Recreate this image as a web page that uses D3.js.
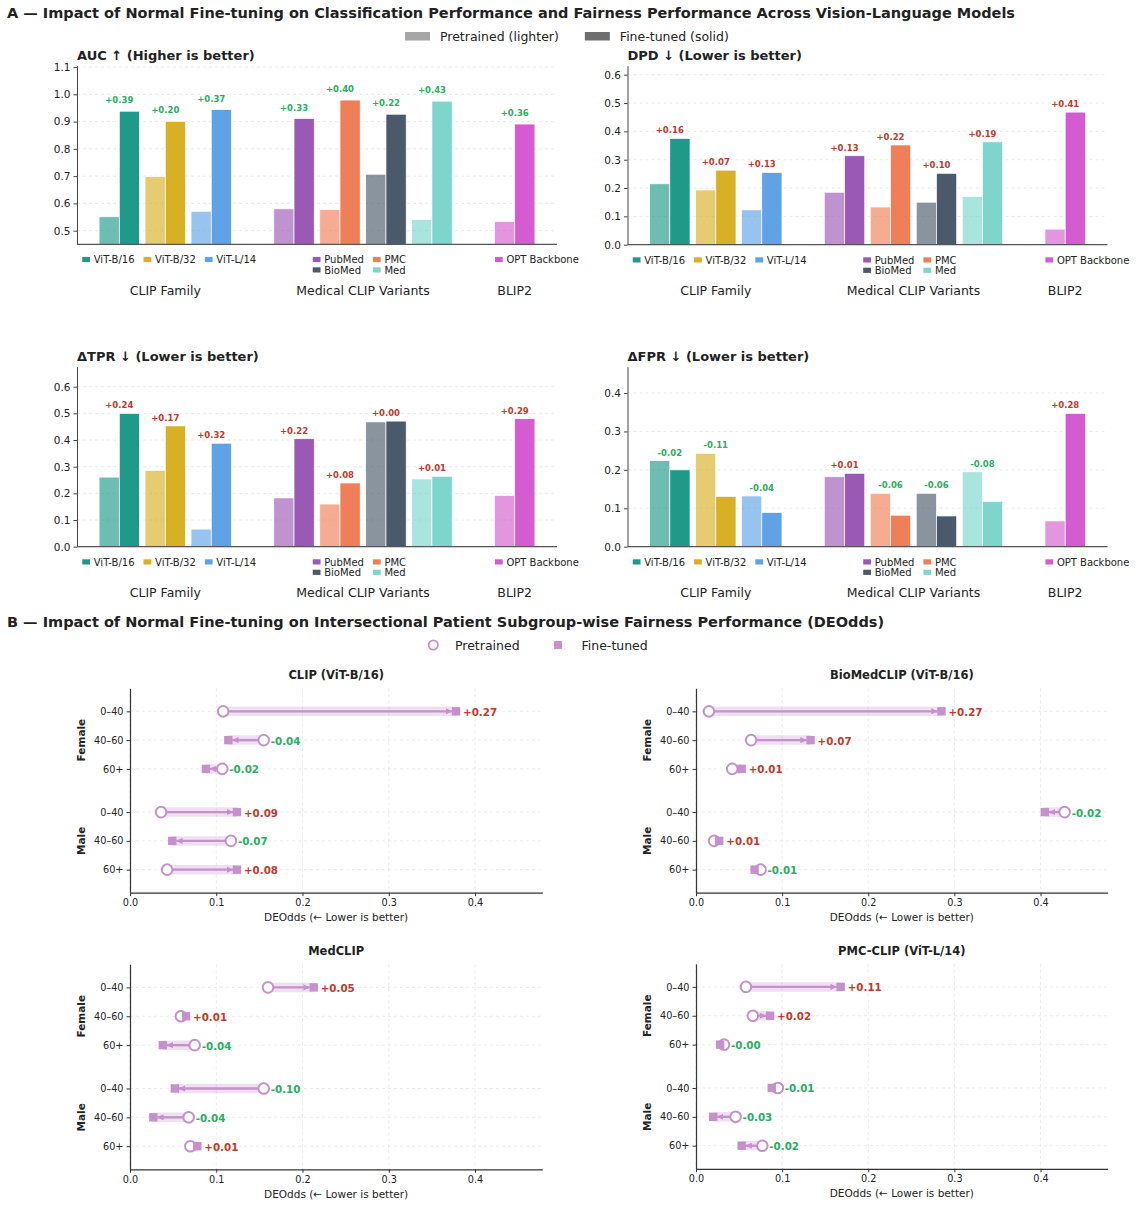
<!DOCTYPE html>
<html>
<head>
<meta charset="utf-8">
<script src="https://cdn.jsdelivr.net/npm/d3@7"></script>
<style>
    body { margin: 0; background: #fff; }
    svg text { font-family: "DejaVu Sans", sans-serif; fill: #222; }
</style>
</head>
<body>
<div id="wrapper"></div>
<script>
// 1. Access data

// Panel A: models, grouped into families
const models = ["ViT-B/16", "ViT-B/32", "ViT-L/14", "PubMed", "PMC", "BioMed", "Med", "OPT Backbone"]
const modelGroup = [0, 0, 0, 1, 1, 1, 1, 2]
const modelPos = [0, 1, 2, 3.8, 4.8, 5.8, 6.8, 8.6]
const modelColors = ["#1f9a8a", "#d7b024", "#5fa3e6", "#9b59b6", "#ef7f58", "#4b5a6a", "#7dd5cc", "#d55cd0"]
const groups = ["CLIP Family", "Medical CLIP Variants", "BLIP2"]
const groupCenters = [1, 5.3, 8.6]

const aucPre = [0.551, 0.698, 0.571, 0.580, 0.577, 0.707, 0.541, 0.533]
const aucFt  = [0.938, 0.901, 0.944, 0.911, 0.979, 0.927, 0.975, 0.891]
const dpdPre = [0.215, 0.193, 0.123, 0.185, 0.133, 0.150, 0.170, 0.055]
const dpdFt  = [0.375, 0.263, 0.255, 0.314, 0.352, 0.252, 0.363, 0.468]
const tprPre = [0.261, 0.286, 0.066, 0.183, 0.160, 0.468, 0.254, 0.192]
const tprFt  = [0.500, 0.453, 0.388, 0.405, 0.239, 0.471, 0.264, 0.480]
const fprPre = [0.224, 0.243, 0.132, 0.182, 0.139, 0.139, 0.195, 0.067]
const fprFt  = [0.200, 0.131, 0.089, 0.191, 0.082, 0.080, 0.118, 0.347]

const aucTicks = [0.5, 0.6, 0.7, 0.8, 0.9, 1.0, 1.1]
const dpdTicks = [0, 0.1, 0.2, 0.3, 0.4, 0.5, 0.6]
const tprTicks = [0, 0.1, 0.2, 0.3, 0.4, 0.5, 0.6]
const fprTicks = [0, 0.1, 0.2, 0.3, 0.4]

// Panel B: subgroup DEOdds
const sexes = ["Female", "Male"]
const subgroups = ["0–40", "40–60", "60+", "0–40", "40–60", "60+"]
const subgroupSex = [0, 0, 0, 1, 1, 1]
const rowPos = [0, 1, 2, 3.5, 4.5, 5.5]
const deoTicks = [0, 0.1, 0.2, 0.3, 0.4]

const clipPre    = [0.108, 0.155, 0.107, 0.036, 0.117, 0.043]
const clipFt     = [0.378, 0.114, 0.088, 0.124, 0.049, 0.124]
const biomedPre  = [0.015, 0.064, 0.042, 0.428, 0.021, 0.075]
const biomedFt   = [0.285, 0.133, 0.053, 0.405, 0.027, 0.068]
const medclipPre = [0.160, 0.059, 0.075, 0.155, 0.068, 0.070]
const medclipFt  = [0.213, 0.065, 0.038, 0.052, 0.027, 0.078]
const pmcPre     = [0.058, 0.066, 0.0325, 0.095, 0.046, 0.077]
const pmcFt      = [0.168, 0.086, 0.028, 0.088, 0.020, 0.053]

const GOOD = "#27ae60"
const BAD = "#c0392b"
const DUMB = "#c690cc"

const fmtDelta = d => (d >= 0 ? "+" : "-") + Math.abs(d).toFixed(2)

// 2. Create chart dimensions
const width = 1142
const height = 1212

const barPanels = [
    { title: "AUC ↑ (Higher is better)", pre: aucPre, ft: aucFt, ticks: aucTicks,
      higherBetter: true, box: [77, 65.7, 557, 244.3], yMin: 0.45, yMax: 1.105, lift: 11 },
    { title: "DPD ↓ (Lower is better)", pre: dpdPre, ft: dpdFt, ticks: dpdTicks,
      higherBetter: false, box: [627.5, 65.7, 1107.5, 244.7], yMin: 0, lift: 8 },
    { title: "ΔTPR ↓ (Lower is better)", pre: tprPre, ft: tprFt, ticks: tprTicks,
      higherBetter: false, box: [77, 366.7, 557, 546.7], yMin: 0, lift: 8 },
    { title: "ΔFPR ↓ (Lower is better)", pre: fprPre, ft: fprFt, ticks: fprTicks,
      higherBetter: false, box: [627.5, 366.7, 1107.5, 546.7], yMin: 0, lift: 8 },
]
// legend left edge for each family, in bar-position units
const legendStart = [-0.806, 4.207, 8.17]

const dumbPanels = [
    { title: "CLIP (ViT-B/16)", pre: clipPre, ft: clipFt, box: [130, 688.3, 542.3, 892.7] },
    { title: "BioMedCLIP (ViT-B/16)", pre: biomedPre, ft: biomedFt, box: [696, 688.3, 1107.7, 892.7] },
    { title: "MedCLIP", pre: medclipPre, ft: medclipFt, box: [130, 964.3, 542.3, 1169.3] },
    { title: "PMC-CLIP (ViT-L/14)", pre: pmcPre, ft: pmcFt, box: [696, 963.8, 1107.7, 1168.8] },
]

// 3. Draw canvas
const wrapper = d3.select("#wrapper")
    .append("svg")
    .attr("width", width)
    .attr("height", height)

wrapper.append("text")
    .attr("x", 7).attr("y", 13)
    .attr("dominant-baseline", "central")
    .attr("font-size", 14.5).attr("font-weight", "bold")
    .text("A — Impact of Normal Fine-tuning on Classification Performance and Fairness Performance Across Vision-Language Models")

wrapper.append("text")
    .attr("x", 7).attr("y", 622)
    .attr("dominant-baseline", "central")
    .attr("font-size", 14.5).attr("font-weight", "bold")
    .text("B — Impact of Normal Fine-tuning on Intersectional Patient Subgroup-wise Fairness Performance (DEOdds)")

// top legend for panel A
const legA = wrapper.append("g")
let lx = 405
;[["Pretrained (lighter)", "#a6a6a6"], ["Fine-tuned (solid)", "#6e6e6e"]].forEach(([label, c]) => {
    legA.append("rect").attr("x", lx).attr("y", 32).attr("width", 25).attr("height", 8.5).attr("fill", c)
    const t = legA.append("text").attr("x", lx + 35).attr("y", 36.3)
        .attr("dominant-baseline", "central").attr("font-size", 12.5).text(label)
    lx += 35 + t.node().getComputedTextLength() + 26
})

// top legend for panel B
const legB = wrapper.append("g")
legB.append("circle").attr("cx", 433.3).attr("cy", 645).attr("r", 4.6)
    .attr("fill", "#fff").attr("stroke", DUMB).attr("stroke-width", 1.8)
legB.append("text").attr("x", 455).attr("y", 645.5).attr("dominant-baseline", "central")
    .attr("font-size", 12.5).text("Pretrained")
legB.append("rect").attr("x", 554).attr("y", 641).attr("width", 8).attr("height", 8).attr("fill", DUMB)
legB.append("text").attr("x", 581.5).attr("y", 645.5).attr("dominant-baseline", "central")
    .attr("font-size", 12.5).text("Fine-tuned")

// 4. Bar panels
barPanels.forEach(p => {
    const [x0, y0, x1, y1] = p.box
    const yMax = p.yMax || d3.max([...p.pre, ...p.ft]) * 1.35

    const xScale = d3.scaleLinear().domain([-0.92, 9.52]).range([x0, x1])
    const yScale = d3.scaleLinear().domain([p.yMin, yMax]).range([y1, y0])
    const barW = xScale(0.44) - xScale(0)

    const g = wrapper.append("g")

    // grid
    g.selectAll(".grid").data(p.ticks).enter().append("line")
        .attr("x1", x0).attr("x2", x1)
        .attr("y1", d => yScale(d)).attr("y2", d => yScale(d))
        .attr("stroke", "#e3e3e3").attr("stroke-width", 0.8).attr("stroke-dasharray", "3,3")

    // bars: pretrained (lighter) then fine-tuned (solid)
    g.selectAll(".pre").data(models).enter().append("rect")
        .attr("x", (d, i) => xScale(modelPos[i]) - barW)
        .attr("y", (d, i) => yScale(p.pre[i]))
        .attr("width", barW)
        .attr("height", (d, i) => y1 - yScale(p.pre[i]))
        .attr("fill", (d, i) => modelColors[i]).attr("fill-opacity", 0.65)
        .attr("stroke", "#fff").attr("stroke-width", 0.7)

    g.selectAll(".ft").data(models).enter().append("rect")
        .attr("x", (d, i) => xScale(modelPos[i]))
        .attr("y", (d, i) => yScale(p.ft[i]))
        .attr("width", barW)
        .attr("height", (d, i) => y1 - yScale(p.ft[i]))
        .attr("fill", (d, i) => modelColors[i])
        .attr("stroke", "#fff").attr("stroke-width", 0.7)

    // delta labels
    g.selectAll(".delta").data(models).enter().append("text")
        .attr("x", (d, i) => xScale(modelPos[i]))
        .attr("y", (d, i) => yScale(Math.max(p.pre[i], p.ft[i])) - p.lift)
        .attr("text-anchor", "middle").attr("dominant-baseline", "central")
        .attr("font-size", 8.5).attr("font-weight", "bold")
        .style("fill", (d, i) => {
            const delta = p.ft[i] - p.pre[i]
            const good = p.higherBetter ? delta > 0 : delta < 0
            return good ? GOOD : BAD
        })
        .text((d, i) => fmtDelta(p.ft[i] - p.pre[i]))

    // y axis
    const yAxis = g.append("g")
        .attr("transform", `translate(${x0},0)`)
        .call(d3.axisLeft(yScale).tickValues(p.ticks).tickFormat(d3.format(".1f")).tickSize(3.5).tickSizeOuter(0))
    yAxis.select(".domain").attr("stroke", "#444")
    yAxis.selectAll(".tick line").attr("stroke", "#444")
    yAxis.selectAll(".tick text").attr("font-size", 10.5).attr("font-family", null).style("fill", "#222")

    // bottom spine
    g.append("line").attr("x1", x0).attr("x2", x1).attr("y1", y1).attr("y2", y1)
        .attr("stroke", "#555").attr("stroke-width", 1.3)

    // title
    g.append("text").attr("x", x0).attr("y", y0 - 10.5)
        .attr("dominant-baseline", "central")
        .attr("font-size", 13).attr("font-weight", "bold")
        .text(p.title)

    // family legends + labels
    groups.forEach((gname, gi) => {
        const items = models.map((m, i) => i).filter(i => modelGroup[i] === gi)
        const ncol = gi === 0 ? 3 : gi === 1 ? 2 : 1
        let colX = xScale(legendStart[gi])
        for (let c = 0; c < ncol; c++) {
            const colItems = items.filter((_, k) => k % ncol === c)
            let maxW = 0
            colItems.forEach((mi, r) => {
                const ry = y1 + 15.2 + r * 10.4
                g.append("rect").attr("x", colX).attr("y", ry - 2.6)
                    .attr("width", 7.8).attr("height", 5.2).attr("fill", modelColors[mi])
                const t = g.append("text").attr("x", colX + 11.5).attr("y", ry + 0.3)
                    .attr("dominant-baseline", "central").attr("font-size", 10)
                    .text(models[mi])
                maxW = Math.max(maxW, t.node().getComputedTextLength())
            })
            colX += 11.5 + maxW + 9
        }
        g.append("text").attr("x", xScale(groupCenters[gi])).attr("y", y1 + 46)
            .attr("text-anchor", "middle").attr("dominant-baseline", "central")
            .attr("font-size", 12.5).text(gname)
    })
})

// 5. Dumbbell panels
const defs = wrapper.append("defs")
defs.append("marker")
    .attr("id", "arrowHead")
    .attr("viewBox", "0 0 10 10")
    .attr("refX", 10).attr("refY", 5)
    .attr("markerWidth", 2.6).attr("markerHeight", 2.6)
    .attr("markerUnits", "strokeWidth")
    .attr("orient", "auto")
    .append("path").attr("d", "M0,0 L10,5 L0,10 z").attr("fill", DUMB)

dumbPanels.forEach(p => {
    const [x0, y0, x1, y1] = p.box
    const xScale = d3.scaleLinear().domain([0, 0.478]).range([x0, x1])
    const yScale = d3.scaleLinear().domain([-0.8, 6.3]).range([y0, y1])

    const g = wrapper.append("g")

    // grid
    g.selectAll(".vgrid").data(deoTicks).enter().append("line")
        .attr("x1", d => xScale(d)).attr("x2", d => xScale(d))
        .attr("y1", y0).attr("y2", y1)
        .attr("stroke", "#e6e6e6").attr("stroke-width", 0.8).attr("stroke-dasharray", "3,3")
    g.selectAll(".hgrid").data(rowPos).enter().append("line")
        .attr("x1", x0).attr("x2", x1)
        .attr("y1", d => yScale(d)).attr("y2", d => yScale(d))
        .attr("stroke", "#e6e6e6").attr("stroke-width", 0.8).attr("stroke-dasharray", "3,3")

    subgroups.forEach((sg, i) => {
        const y = yScale(rowPos[i])
        const xp = xScale(p.pre[i])
        const xf = xScale(p.ft[i])
        const dir = xf >= xp ? 1 : -1

        // soft band
        g.append("line").attr("x1", xp).attr("x2", xf).attr("y1", y).attr("y2", y)
            .attr("stroke", DUMB).attr("stroke-opacity", 0.28).attr("stroke-width", 9.5)

        // arrow from pretrained to fine-tuned
        const end = xf - dir * 4
        if (Math.abs(end - xp) > 6) {
            g.append("line").attr("x1", xp).attr("x2", end).attr("y1", y).attr("y2", y)
                .attr("stroke", DUMB).attr("stroke-width", 2.4)
                .attr("marker-end", "url(#arrowHead)")
        }

        // pretrained: open circle
        g.append("circle").attr("cx", xp).attr("cy", y).attr("r", 5.3)
            .attr("fill", "#fff").attr("stroke", DUMB).attr("stroke-width", 2)

        // fine-tuned: filled square
        g.append("rect").attr("x", xf - 4.2).attr("y", y - 4.2)
            .attr("width", 8.4).attr("height", 8.4).attr("fill", DUMB)

        // delta label
        const delta = p.ft[i] - p.pre[i]
        g.append("text")
            .attr("x", xScale(Math.max(p.pre[i], p.ft[i])) + 7)
            .attr("y", y + 0.5)
            .attr("dominant-baseline", "central")
            .attr("font-size", 10.3).attr("font-weight", "bold")
            .style("fill", delta >= 0 ? BAD : GOOD)
            .text(fmtDelta(delta))
    })

    // axes
    const xAxis = g.append("g")
        .attr("transform", `translate(0,${y1})`)
        .call(d3.axisBottom(xScale).tickValues(deoTicks).tickFormat(d3.format(".1f")).tickSize(3.5).tickSizeOuter(0))
    xAxis.select(".domain").attr("stroke", "#333").attr("stroke-width", 1.2)
    xAxis.selectAll(".tick line").attr("stroke", "#333")
    xAxis.selectAll(".tick text").attr("font-size", 9.7).attr("font-family", null).style("fill", "#222")

    const yAxis = g.append("g")
        .attr("transform", `translate(${x0},0)`)
        .call(d3.axisLeft(yScale).tickValues(rowPos).tickFormat((d, i) => subgroups[i]).tickSize(3.5).tickSizeOuter(0))
    yAxis.select(".domain").attr("stroke", "#333").attr("stroke-width", 1.2)
    yAxis.selectAll(".tick line").attr("stroke", "#333")
    yAxis.selectAll(".tick text").attr("font-size", 9.7).attr("font-family", null).style("fill", "#222")

    // sex labels
    sexes.forEach((s, si) => {
        const rows = rowPos.filter((_, i) => subgroupSex[i] === si)
        const cy = yScale(d3.mean(rows))
        g.append("text")
            .attr("transform", `translate(${x0 - 49.3},${cy}) rotate(-90)`)
            .attr("text-anchor", "middle").attr("dominant-baseline", "central")
            .attr("font-size", 10.5).attr("font-weight", "bold")
            .text(s)
    })

    g.append("text").attr("x", (x0 + x1) / 2).attr("y", y0 - 13)
        .attr("text-anchor", "middle").attr("dominant-baseline", "central")
        .attr("font-size", 11.5).attr("font-weight", "bold")
        .text(p.title)

    g.append("text").attr("x", (x0 + x1) / 2).attr("y", y1 + 24.6)
        .attr("text-anchor", "middle").attr("dominant-baseline", "central")
        .attr("font-size", 10.5)
        .text("DEOdds (← Lower is better)")
})
</script>
</body>
</html>
